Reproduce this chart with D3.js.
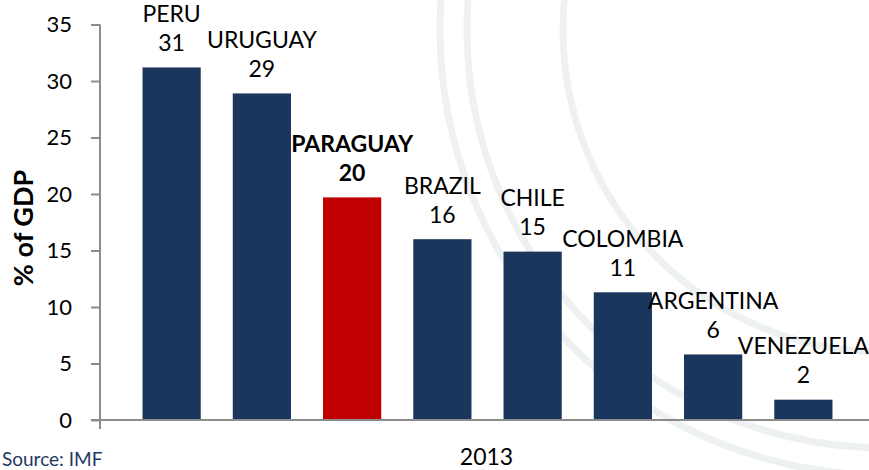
<!DOCTYPE html>
<html>
<head>
<meta charset="utf-8">
<script src="https://cdn.jsdelivr.net/npm/d3@7"></script>
<style>
  html, body { margin: 0; padding: 0; background: #fff; }
  svg { display: block; }
  text { font-family: Lato, "Open Sans", sans-serif; }
</style>
</head>
<body>
<svg id="chart" width="869" height="470"></svg>
<script>
const countries = ["PERU", "URUGUAY", "PARAGUAY", "BRAZIL", "CHILE", "COLOMBIA", "ARGENTINA", "VENEZUELA"];
const values = [31.2, 28.9, 19.7, 16.0, 14.9, 11.3, 5.8, 1.8];
const valueLabels = ["31", "29", "20", "16", "15", "11", "6", "2"];
const highlight = ["PARAGUAY"];
const yTicks = [0, 5, 10, 15, 20, 25, 30, 35];
const categoryLabel = "2013";
const yTitle = "% of GDP";
const sourceText = "Source: IMF";

const svg = d3.select("#chart");
const W = 869, H = 470;

// faint watermark seal
const wm = svg.append("g").attr("fill", "none").attr("stroke", "#eef1f1").attr("stroke-width", 7);
[445, 418, 322].forEach(r => wm.append("circle").attr("cx", 885).attr("cy", 30).attr("r", r));

const x0 = 100, y0 = 420;
const y = d3.scaleLinear().domain([0, 35]).range([y0, 24.5]);
const x = d3.scaleBand().domain(countries).range([126.5, 848.5]).paddingInner(0.355).paddingOuter(0.1775);

const axisColor = "#8c8c8c";

// bars
svg.append("g").selectAll("rect").data(countries).join("rect")
  .attr("x", d => x(d))
  .attr("width", x.bandwidth())
  .attr("y", (d, i) => y(values[i]))
  .attr("height", (d, i) => y0 - y(values[i]))
  .attr("fill", d => highlight.includes(d) ? "#C00000" : "#1B365D");

// y axis
const yAxis = d3.axisLeft(y).tickValues(yTicks).tickSize(9).tickPadding(19);
const gy = svg.append("g").attr("transform", `translate(${x0},0)`).call(yAxis);
gy.select(".domain").remove();
gy.selectAll(".tick line").attr("stroke", axisColor).attr("stroke-width", 2);
gy.selectAll(".tick text").attr("fill", "#000").attr("font-size", 22)
  .attr("font-family", "Lato, sans-serif");
svg.append("line").attr("x1", x0).attr("x2", x0).attr("y1", y(35)).attr("y2", y0 + 9)
  .attr("stroke", axisColor).attr("stroke-width", 2);

// x axis baseline
svg.append("line").attr("x1", x0 - 9).attr("x2", W).attr("y1", y0).attr("y2", y0)
  .attr("stroke", axisColor).attr("stroke-width", 2);

// data labels
const lab = svg.append("g").attr("text-anchor", "middle").attr("font-size", 23).attr("fill", "#000");
countries.forEach((c, i) => {
  const cx = x(c) + x.bandwidth() / 2;
  const by = y(values[i]) - 16.5;
  const bold = highlight.includes(c);
  lab.append("text").attr("x", cx).attr("y", by).text(valueLabels[i])
    .attr("font-weight", bold ? 700 : 400);
  lab.append("text").attr("x", cx).attr("y", by - 29).text(c)
    .attr("font-weight", bold ? 700 : 400);
});

// category label
svg.append("text").attr("x", 486.5).attr("y", 465).attr("text-anchor", "middle")
  .attr("font-size", 23).attr("fill", "#000").text(categoryLabel);

// y title
svg.append("text").attr("transform", "translate(33,228) rotate(-90)")
  .attr("text-anchor", "middle").attr("font-size", 27).attr("font-weight", 700)
  .attr("fill", "#000").text(yTitle);

// source
svg.append("text").attr("x", 2).attr("y", 466).attr("text-anchor", "start")
  .attr("font-size", 19).attr("fill", "#1F3864").text(sourceText);
</script>
</body>
</html>
